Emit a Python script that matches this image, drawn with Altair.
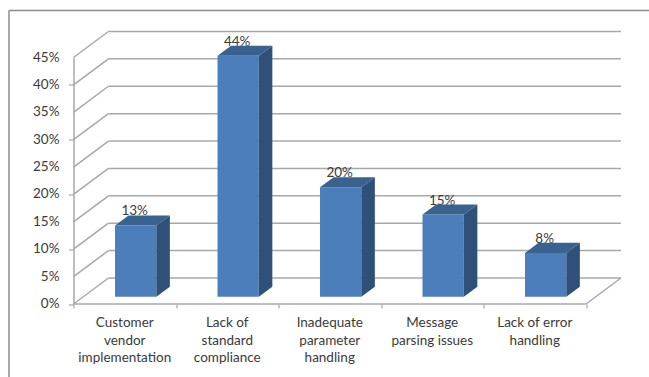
import altair as alt
import pandas as pd

categories = [
    "Customer\nvendor\nimplementation",
    "Lack of\nstandard\ncompliance",
    "Inadequate\nparameter\nhandling",
    "Message\nparsing issues",
    "Lack of error\nhandling",
]
values = [13, 44, 20, 15, 8]
levels = list(range(0, 50, 5))

FONT = "Lato"
TEXT = "#3a3a3a"
GRID = "#a8a8a8"
FRONT = "#4c7ebb"
SIDE = "#2f5179"
TOP = "#3a628f"

# Oblique projection: how far the back wall sits from the front plane, in data units.
WALL_DX, WALL_DY = 0.341, 4.75
# Bars stand part-way into the floor and have their own shallower depth.
BAR_LEFT, BAR_WIDTH, BAR_BASE = 0.405, 0.403, 1.33
BAR_DX, BAR_DY = 0.132, 1.83

W, H = 512.5, 246.5
x_scale = alt.Scale(domain=[0, 5], nice=False, zero=False)
y_scale = alt.Scale(domain=[0, 45], nice=False, zero=False)

# Floor-to-wall slants and wall lines
grid_rows = []
for lv in levels:
    grid_rows.append(dict(x=0, x2=WALL_DX, y=lv, y2=lv + WALL_DY))
    grid_rows.append(dict(x=WALL_DX, x2=5 + WALL_DX, y=lv + WALL_DY, y2=lv + WALL_DY))
grid_rows.append(dict(x=5, x2=5 + WALL_DX, y=0, y2=WALL_DY))
grid_rows.append(dict(x=0, x2=5, y=0, y2=0))
grid = (
    alt.Chart(pd.DataFrame(grid_rows))
    .mark_rule(color=GRID, strokeWidth=1.5)
    .encode(
        x=alt.X(
            "x:Q",
            scale=x_scale,
            title=None,
            axis=alt.Axis(
                values=list(range(6)),
                labels=False,
                grid=False,
                domain=False,
                ticks=True,
                tickColor=GRID,
                tickSize=4,
                tickWidth=1.2,
                title=None,
            ),
        ),
        x2="x2:Q",
        y=alt.Y(
            "y:Q",
            scale=y_scale,
            title=None,
            axis=alt.Axis(
                values=levels,
                labels=False,
                grid=False,
                domainColor=GRID,
                domainWidth=1.5,
                tickColor=GRID,
                tickSize=5,
                tickWidth=1.2,
                title=None,
            ),
        ),
        y2="y2:Q",
    )
)

# Percentage labels beside the vertical axis
y_labels = (
    alt.Chart(pd.DataFrame({"x": [0] * len(levels), "y": levels, "t": [f"{lv}%" for lv in levels]}))
    .mark_text(font=FONT, fontSize=13.5, color=TEXT, align="right", baseline="middle", dx=-14)
    .encode(x=alt.X("x:Q", scale=x_scale), y=alt.Y("y:Q", scale=y_scale), text="t:N")
)

front_rows, side_rows, top_rows, label_rows = [], [], [], []
for i, (name, v) in enumerate(zip(categories, values)):
    x0 = i + BAR_LEFT
    x1 = x0 + BAR_WIDTH
    y0 = BAR_BASE
    y1 = y0 + v
    front_rows.append(dict(x=x0, x2=x1, y=y0, y2=y1))
    side_rows += [
        dict(k=i, x=x1, y=y1, y2=y0),
        dict(k=i, x=x1 + BAR_DX, y=y1 + BAR_DY, y2=y0 + BAR_DY),
    ]
    top_rows += [
        dict(k=i, y=y1, x=x0, x2=x1),
        dict(k=i, y=y1 + BAR_DY, x=x0 + BAR_DX, x2=x1 + BAR_DX),
    ]
    label_rows.append(dict(x=(x0 + x1) / 2 - 0.01, y=y1 + BAR_DY, t=f"{v}%"))

value_labels = (
    alt.Chart(pd.DataFrame(label_rows))
    .mark_text(font=FONT, fontSize=13.5, color=TEXT, baseline="bottom", dy=3)
    .encode(x=alt.X("x:Q", scale=x_scale), y=alt.Y("y:Q", scale=y_scale), text="t:N")
)

front = (
    alt.Chart(pd.DataFrame(front_rows))
    .mark_rect(color=FRONT)
    .encode(
        x=alt.X("x:Q", scale=x_scale),
        x2="x2:Q",
        y=alt.Y("y:Q", scale=y_scale),
        y2="y2:Q",
    )
)

side = (
    alt.Chart(pd.DataFrame(side_rows))
    .mark_area(color=SIDE, orient="vertical")
    .encode(
        x=alt.X("x:Q", scale=x_scale),
        y=alt.Y("y:Q", scale=y_scale),
        y2="y2:Q",
        detail="k:N",
    )
)

top = (
    alt.Chart(pd.DataFrame(top_rows))
    .mark_area(color=TOP, orient="horizontal")
    .encode(
        y=alt.Y("y:Q", scale=y_scale),
        x=alt.X("x:Q", scale=x_scale),
        x2="x2:Q",
        detail="k:N",
    )
)

category_labels = (
    alt.Chart(pd.DataFrame({"x": [i + 0.5 for i in range(5)], "y": [0] * 5, "t": categories}))
    .mark_text(
        font=FONT,
        fontSize=13.5,
        color=TEXT,
        baseline="top",
        lineBreak="\n",
        lineHeight=17.7,
        dy=12,
    )
    .encode(x=alt.X("x:Q", scale=x_scale), y=alt.Y("y:Q", scale=y_scale), text="t:N")
)

# Outer frame: only its top and left edges are visible in the window
frame_top = (
    alt.Chart(pd.DataFrame({"a": [0]}))
    .mark_rule(color="#8c8c8c", strokeWidth=1.5)
    .encode(x=alt.value(-64.5), x2=alt.value(W + 63), y=alt.value(-47))
)
frame_left = (
    alt.Chart(pd.DataFrame({"a": [0]}))
    .mark_rule(color="#8c8c8c", strokeWidth=1.5)
    .encode(x=alt.value(-64.5), y=alt.value(-47), y2=alt.value(H + 73))
)

chart = (
    alt.layer(grid, y_labels, value_labels, front, side, top, category_labels, frame_top, frame_left)
    .properties(
        width=W,
        height=H,
        padding={"left": 73.5, "top": 57.5, "right": 63, "bottom": 73},
        autosize=alt.AutoSizeParams(type="none"),
        background="white",
    )
    .configure_view(stroke=None)
)

chart.save("out.html", embed_options={"renderer": "svg", "actions": False})
